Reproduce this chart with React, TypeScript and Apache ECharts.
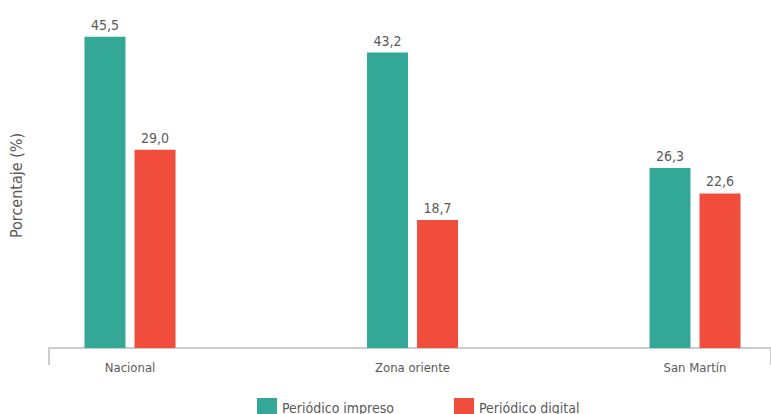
import React, { useEffect, useRef } from "react";
import * as echarts from "echarts";

const categories = ["Nacional", "Zona oriente", "San Martín"];
const categoryPositions = [0, 1, 2];
const impreso = [45.5, 43.2, 26.3];
const digital = [29.0, 18.7, 22.6];
const seriesNames = ["Periódico impreso", "Periódico digital"];

const FONT = "'DejaVu Sans Condensed', 'Liberation Sans Narrow', sans-serif";
const TEXT = "#5a5a5a";

export default function App() {
  const ref = useRef<HTMLDivElement>(null);
  useEffect(() => {
    if (!ref.current) return;
    const chart = echarts.init(ref.current, undefined, { renderer: "svg" });
    const fmt = (p: any) => Number(p.value[1]).toFixed(1).replace(".", ",");
    const toPairs = (arr: number[]) => arr.map((v, i) => [categoryPositions[i], v]);
    chart.setOption({
      animation: false,
      textStyle: { fontFamily: FONT },
      legend: {
        top: 393,
        left: 252,
        itemWidth: 20,
        itemHeight: 20,
        itemGap: 60,
        icon: "rect",
        textStyle: { fontFamily: FONT, fontSize: 14, color: TEXT },
        data: seriesNames,
      },
      grid: [
        { left: 0, right: 0, top: 6, bottom: 66, containLabel: false },
        { left: 47, right: 0, top: 23, bottom: 66, containLabel: false },
      ],
      xAxis: [
        {
          gridIndex: 0,
          type: "value",
          min: -0.4602,
          max: 2.269,
          axisLine: { show: false },
          axisTick: { show: false },
          splitLine: { show: false },
          axisLabel: {
            customValues: categoryPositions,
            formatter: (v: number) => categories[Math.round(v)] ?? "",
            fontFamily: FONT,
            fontSize: 13,
            color: TEXT,
            margin: 13,
          },
        },
        {
          gridIndex: 1,
          type: "category",
          data: [""],
          axisLine: { show: true, lineStyle: { color: "#cccccc", width: 2 } },
          axisTick: { show: true, length: 17, lineStyle: { color: "#cccccc", width: 2 } },
          axisLabel: { show: false },
        },
      ],
      yAxis: [
        {
          gridIndex: 0,
          type: "value",
          min: 0,
          max: 50,
          show: false,
        },
        {
          gridIndex: 1,
          type: "value",
          min: 0,
          max: 50,
          name: "Porcentaje (%)",
          nameLocation: "middle",
          nameGap: 25,
          nameRotate: 90,
          nameTextStyle: { fontFamily: FONT, fontSize: 16, color: TEXT },
          axisLine: { show: false },
          axisTick: { show: false },
          axisLabel: { show: false },
          splitLine: { show: false },
        },
      ],
      series: [
        {
          name: seriesNames[0],
          type: "bar",
          xAxisIndex: 0,
          yAxisIndex: 0,
          data: toPairs(impreso),
          barWidth: 41,
          barGap: "22%",
          itemStyle: { color: "#34a897" },
          label: { show: true, position: "top", formatter: fmt, fontFamily: FONT, fontSize: 14, color: TEXT, distance: 5 },
        },
        {
          name: seriesNames[1],
          type: "bar",
          xAxisIndex: 0,
          yAxisIndex: 0,
          data: toPairs(digital),
          barWidth: 41,
          barGap: "22%",
          itemStyle: { color: "#f04d3c" },
          label: { show: true, position: "top", formatter: fmt, fontFamily: FONT, fontSize: 14, color: TEXT, distance: 5 },
        },
      ],
    });
    return () => chart.dispose();
  }, []);
  return <div ref={ref} style={{ width: 771, height: 414, position: "absolute", left: 0, top: 0 }} />;
}
